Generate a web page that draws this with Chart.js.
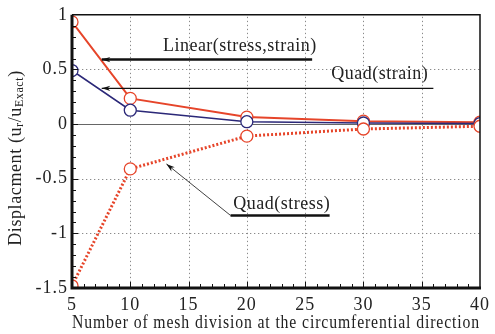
<!DOCTYPE html>
<html>
<head>
<meta charset="utf-8">
<script src="https://cdn.jsdelivr.net/npm/chart.js@4.4.0/dist/chart.umd.min.js"></script>
<style>
  html, body { margin: 0; padding: 0; background: #fff; }
  #wrap { width: 495px; height: 334px; }
</style>
</head>
<body>
<div id="wrap"><canvas id="chart" width="495" height="334"></canvas></div>
<script>
// mesh divisions and normalised displacement errors
const meshDivisions = [5, 10, 20, 30, 40];
const linearStressStrain = [0.935, 0.235, 0.064, 0.027, 0.017];
const quadStrain = [0.49, 0.127, 0.022, 0.01, 0.005];
const quadStress = [-1.48, -0.41, -0.11, -0.045, -0.02];

const xGridValues = [10, 15, 20, 25, 30, 35];
const yGridValues = [0.5, -0.5, -1];
const yTickLabels = { "1": "1", "0.5": "0.5", "0": "0", "-0.5": "-0.5", "-1": "-1", "-1.5": "-1.5" };

const RED = "#e6452a";
const NAVY = "#2b2878";
const SERIF = "'Liberation Serif', 'DejaVu Serif', serif";

// callouts, in data units
const callouts = [
  { text: "Linear(stress,strain)", tx: 19.4, ty: 0.71, line: [[25.6, 0.59], [7.55, 0.59]], width: 2.5 },
  { text: "Quad(strain)", tx: 31.4, ty: 0.455, line: [[36.0, 0.327], [7.55, 0.327]], width: 1.3 },
  { text: "Quad(stress)", tx: 23.0, ty: -0.73, line: [[27.1, -0.836], [18.6, -0.836], [13.1, -0.365]], width: 2.5, tipWidth: 0.8 },
];

const toPoints = (ys) => meshDivisions.map((x, i) => ({ x: x, y: ys[i] }));

const gridPlugin = {
  id: "dotgrid",
  beforeDraw(chart) {
    chart.ctx.letterSpacing = "1px";
  },
  beforeDatasetsDraw(chart) {
    const { ctx, chartArea: a, scales } = chart;
    ctx.save();
    ctx.letterSpacing = "0px";
    ctx.fillStyle = "#8a8a8a";
    // dotted grid
    xGridValues.forEach((v) => {
      const px = Math.round(scales.x.getPixelForValue(v));
      for (let y = a.top + 2; y < a.bottom; y += 4) ctx.fillRect(px, y, 1, 1.3);
    });
    yGridValues.forEach((v) => {
      const py = Math.round(scales.y.getPixelForValue(v));
      for (let x = a.left + 2; x < a.right; x += 4) ctx.fillRect(x, py, 1.3, 1);
    });
    // zero line
    const p0 = Math.round(scales.y.getPixelForValue(0)) + 0.5;
    ctx.strokeStyle = "#666";
    ctx.lineWidth = 1.2;
    ctx.beginPath(); ctx.moveTo(a.left, p0); ctx.lineTo(a.right, p0); ctx.stroke();
    ctx.restore();
  },
};

const framePlugin = {
  id: "frame",
  afterDatasetsDraw(chart) {
    const { ctx, chartArea: a, scales } = chart;
    const xs = scales.x, ys = scales.y;
    ctx.save();
    ctx.letterSpacing = "0px";
    // minor ticks (inward)
    ctx.strokeStyle = "#111";
    ctx.lineWidth = 1;
    for (let v = 6; v < 40; v++) {
      const px = Math.round(xs.getPixelForValue(v)) + 0.5;
      const len = v % 5 === 0 ? 6 : 4;
      ctx.beginPath(); ctx.moveTo(px, a.bottom); ctx.lineTo(px, a.bottom - len); ctx.stroke();
    }
    for (let k = -14; k < 10; k++) {
      const py = Math.round(ys.getPixelForValue(k / 10)) + 0.5;
      const len = k % 5 === 0 ? 6 : 4;
      ctx.beginPath(); ctx.moveTo(a.left, py); ctx.lineTo(a.left + len, py); ctx.stroke();
    }
    // frame
    ctx.strokeStyle = "#111";
    ctx.lineWidth = 1.5;
    ctx.beginPath();
    ctx.moveTo(a.left, a.top); ctx.lineTo(a.right, a.top); ctx.lineTo(a.right, a.bottom);
    ctx.stroke();
    ctx.lineWidth = 3;
    ctx.beginPath();
    ctx.moveTo(a.left, a.top); ctx.lineTo(a.left, a.bottom); ctx.lineTo(a.right + 1, a.bottom);
    ctx.stroke();

    // callouts
    ctx.fillStyle = "#222";
    ctx.font = "18px " + SERIF;
    ctx.letterSpacing = "0.5px";
    ctx.textAlign = "center";
    ctx.textBaseline = "middle";
    callouts.forEach((c) => {
      ctx.fillText(c.text, xs.getPixelForValue(c.tx), ys.getPixelForValue(c.ty));
      const pts = c.line.map(([x, y]) => [xs.getPixelForValue(x), ys.getPixelForValue(y)]);
      ctx.strokeStyle = "#111";
      for (let i = 0; i < pts.length - 1; i++) {
        const last = i === pts.length - 2;
        ctx.lineWidth = last && c.tipWidth ? c.tipWidth : c.width;
        ctx.beginPath(); ctx.moveTo(pts[i][0], pts[i][1]); ctx.lineTo(pts[i + 1][0], pts[i + 1][1]); ctx.stroke();
      }
      // arrow head at last point
      const [x1, y1] = pts[pts.length - 2];
      const [x2, y2] = pts[pts.length - 1];
      const ang = Math.atan2(y2 - y1, x2 - x1);
      ctx.fillStyle = "#111";
      ctx.beginPath();
      ctx.moveTo(x2, y2);
      ctx.lineTo(x2 - 9 * Math.cos(ang - 0.3), y2 - 9 * Math.sin(ang - 0.3));
      ctx.lineTo(x2 - 6 * Math.cos(ang), y2 - 6 * Math.sin(ang));
      ctx.lineTo(x2 - 9 * Math.cos(ang + 0.3), y2 - 9 * Math.sin(ang + 0.3));
      ctx.closePath();
      ctx.fill();
      ctx.fillStyle = "#222";
    });

    // y axis title with subscripts
    ctx.translate(16, 158);
    ctx.rotate(-Math.PI / 2);
    ctx.letterSpacing = "0.6px";
    const parts = [
      ["Displacment (u", 18, 0], ["r", 12, 4], ["/u", 18, 0], ["Exact", 12, 4], [")", 18, 0],
    ];
    let total = 0;
    parts.forEach((p) => { ctx.font = p[1] + "px " + SERIF; total += ctx.measureText(p[0]).width; });
    let x = -total / 2;
    ctx.textAlign = "left";
    ctx.fillStyle = "#222";
    parts.forEach((p) => {
      ctx.font = p[1] + "px " + SERIF;
      ctx.fillText(p[0], x, p[2]);
      x += ctx.measureText(p[0]).width;
    });
    ctx.restore();
  },
};

new Chart(document.getElementById("chart").getContext("2d"), {
  type: "scatter",
  data: {
    datasets: [
      {
        label: "Quad(stress)",
        data: toPoints(quadStress),
        borderColor: RED,
        backgroundColor: "#fff",
        borderWidth: 3,
        borderDash: [2, 2],
        showLine: true,
        pointRadius: 6,
        pointBorderWidth: 1.3,
        pointBorderColor: RED,
      },
      {
        label: "Quad(strain)",
        data: toPoints(quadStrain),
        borderColor: NAVY,
        backgroundColor: "#fff",
        borderWidth: 1.6,
        showLine: true,
        pointRadius: 6,
        pointBorderWidth: 1.3,
      },
      {
        label: "Linear(stress,strain)",
        data: toPoints(linearStressStrain),
        borderColor: RED,
        backgroundColor: "#fff",
        borderWidth: 2,
        showLine: true,
        pointRadius: 6,
        pointBorderWidth: 1.3,
      },
    ],
  },
  options: {
    responsive: false,
    animation: false,
    layout: { padding: { top: 13, right: 11, left: 0, bottom: 0 } },
    plugins: {
      legend: { display: false },
      tooltip: { enabled: false },
    },
    scales: {
      x: {
        type: "linear",
        min: 5,
        max: 40,
        afterFit: (s) => { s.height = 46; },
        ticks: { stepSize: 5, color: "#222", font: { family: SERIF, size: 18 }, padding: 6, maxRotation: 0 },
        grid: { display: false, drawTicks: false },
        border: { display: false },
        title: {
          display: true,
          text: "Number of mesh division at the circumferential direction",
          color: "#222",
          font: { family: SERIF, size: 18 },
          padding: { top: 0, bottom: 0 },
        },
      },
      y: {
        type: "linear",
        min: -1.5,
        max: 1,
        afterFit: (s) => { s.width = 72; },
        ticks: {
          stepSize: 0.5,
          color: "#222",
          font: { family: SERIF, size: 18 },
          padding: 4,
          callback: (v) => yTickLabels[String(v)] || "",
        },
        grid: { display: false, drawTicks: false },
        border: { display: false },
      },
    },
  },
  plugins: [gridPlugin, framePlugin],
});
</script>
</body>
</html>
